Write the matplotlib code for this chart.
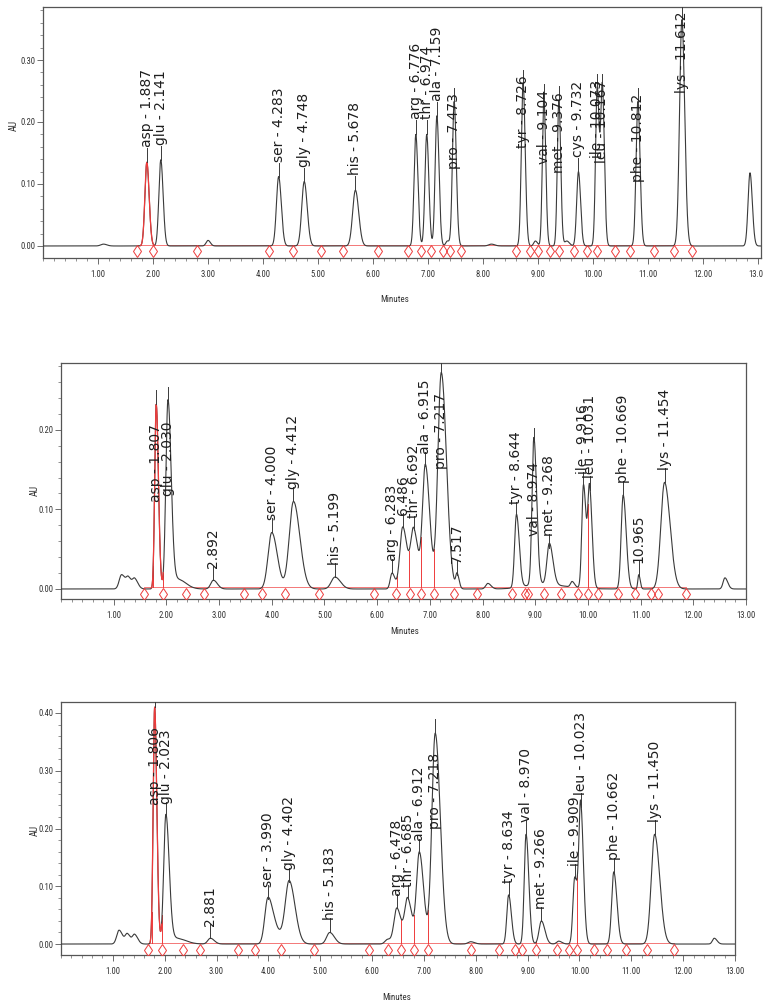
import numpy as np
import matplotlib
matplotlib.use("Agg")
import matplotlib.pyplot as plt
from matplotlib import font_manager as fm
from matplotlib.ticker import MultipleLocator, FixedLocator, FormatStrFormatter

# ------------------------------------------------------------------ data
# Panel 1 (standard)
p1_names = ["asp", "glu", "ser", "gly", "his", "arg", "thr", "ala", "pro", "tyr",
            "val", "met", "cys", "ile", "leu", "phe", "lys"]
p1_rt = [1.887, 2.141, 4.283, 4.748, 5.678, 6.776, 6.974, 7.159, 7.473, 8.726,
         9.104, 9.376, 9.732, 10.073, 10.167, 10.812, 11.612]
p1_height = [0.135, 0.139, 0.112, 0.104, 0.090, 0.180, 0.180, 0.210, 0.233, 0.262,
             0.238, 0.235, 0.120, 0.255, 0.255, 0.233, 0.365]
p1_width = [0.035, 0.035, 0.040, 0.045, 0.050, 0.032, 0.032, 0.032, 0.032, 0.032,
            0.028, 0.028, 0.032, 0.030, 0.030, 0.033, 0.042]
p1_extra_rt = [1.10, 3.00, 7.35, 8.15, 8.95, 9.52, 12.85]
p1_extra_height = [0.003, 0.009, 0.008, 0.003, 0.008, 0.008, 0.118]
p1_extra_width = [0.05, 0.035, 0.03, 0.05, 0.03, 0.04, 0.035]
p1_bounds = [1.70, 2.00, 2.80, 4.10, 4.54, 5.06, 5.46, 6.09, 6.64, 6.87, 7.05, 7.27,
             7.39, 7.60, 8.60, 8.86, 8.99, 9.22, 9.38, 9.65, 9.89, 10.07, 10.40,
             10.67, 11.10, 11.47, 11.79]
p1_drops = []

# Panel 2 (sample)
p2_names = ["asp", "glu", "", "ser", "gly", "his", "arg", "", "thr", "ala", "pro", "",
            "tyr", "val", "met", "ile", "leu", "phe", "", "lys"]
p2_rt = [1.807, 2.030, 2.892, 4.000, 4.412, 5.199, 6.283, 6.486, 6.692, 6.915, 7.217,
         7.517, 8.644, 8.974, 9.268, 9.916, 10.031, 10.669, 10.965, 11.454]
p2_height = [0.232, 0.236, 0.011, 0.071, 0.110, 0.015, 0.020, 0.078, 0.074, 0.155,
             0.272, 0.018, 0.092, 0.185, 0.052, 0.130, 0.124, 0.118, 0.018, 0.134]
p2_width = [0.028, 0.040, 0.05, 0.070, 0.080, 0.07, 0.035, 0.055, 0.055, 0.055,
            0.065, 0.025, 0.035, 0.035, 0.045, 0.032, 0.032, 0.038, 0.018, 0.070]
p2_extra_rt = [1.15, 1.28, 1.40, 2.22, 8.10, 9.10, 9.70, 12.60]
p2_extra_height = [0.018, 0.013, 0.012, 0.012, 0.007, 0.006, 0.007, 0.014]
p2_extra_width = [0.045, 0.04, 0.04, 0.10, 0.04, 0.30, 0.03, 0.035]
p2_bounds = [1.58, 1.94, 2.37, 2.72, 3.47, 3.81, 4.26, 4.90, 5.94, 6.36, 6.62, 6.83,
             7.08, 7.46, 7.90, 8.56, 8.81, 8.86, 9.17, 9.49, 9.81, 10.00, 10.19,
             10.57, 10.89, 11.20, 11.33, 11.86]
p2_drops = [1.75, 1.94, 6.38, 6.60, 6.83, 7.08, 10.00]

# Panel 3 (sample)
p3_names = ["asp", "glu", "", "ser", "gly", "his", "arg", "thr", "ala", "pro",
            "tyr", "val", "met", "ile", "leu", "phe", "lys"]
p3_rt = [1.806, 2.023, 2.881, 3.990, 4.402, 5.183, 6.478, 6.685, 6.912, 7.218,
         8.634, 8.970, 9.266, 9.909, 10.023, 10.662, 11.450]
p3_height = [0.410, 0.222, 0.010, 0.078, 0.108, 0.020, 0.062, 0.078, 0.158, 0.365,
             0.085, 0.190, 0.040, 0.115, 0.238, 0.125, 0.190]
p3_width = [0.028, 0.042, 0.05, 0.060, 0.075, 0.06, 0.055, 0.055, 0.055, 0.065,
            0.035, 0.035, 0.045, 0.035, 0.035, 0.040, 0.065]
p3_extra_rt = [1.12, 1.28, 1.42, 2.22, 4.15, 6.30, 7.90, 9.60, 12.60]
p3_extra_height = [0.024, 0.017, 0.016, 0.010, 0.020, 0.008, 0.004, 0.005, 0.010]
p3_extra_width = [0.045, 0.04, 0.04, 0.12, 0.08, 0.05, 0.05, 0.04, 0.035]
p3_bounds = [1.68, 1.95, 2.35, 2.68, 3.42, 3.74, 4.24, 4.88, 5.94, 6.31, 6.56, 6.80,
             7.08, 7.90, 8.45, 8.76, 8.90, 9.17, 9.57, 9.79, 9.96, 10.29, 10.54,
             10.89, 11.31, 11.83]
p3_drops = [1.75, 1.95, 6.56, 6.80, 7.08, 9.17, 9.96]

# ------------------------------------------------------------------ style
def pick_font(cands):
    avail = {f.name for f in fm.fontManager.ttflist}
    for c in cands:
        if c in avail:
            return c
    return "DejaVu Sans"

TICK_FONT = pick_font(["Liberation Sans Narrow", "Roboto Condensed", "Open Sans Condensed",
                       "DejaVu Sans Condensed", "Liberation Sans"])
LABEL_FONT = "DejaVu Sans"

TRACE = "#3a3a3a"
RED = "#ee3b3b"

fig = plt.figure(figsize=(7.63, 10.02), dpi=100)
W, H = 763.0, 1002.0


def add_axes_px(left, top, right, bottom):
    return fig.add_axes([left / W, 1 - bottom / H, (right - left) / W, (bottom - top) / H])


def trace(x, rts, hs, ws, tail):
    y = np.zeros_like(x)
    for r, h, w in zip(rts, hs, ws):
        s = np.where(x < r, w, w * tail)
        y += h * np.exp(-0.5 * ((x - r) / s) ** 2)
    return y


def draw_panel(ax, names, rts, hs, ws, ex_rt, ex_h, ex_w, bounds, drops,
               xlim, ylim, ymax_tick, tail, gap, below_off, fit_margin):
    x = np.linspace(0, 13.05, 8000)
    all_rt = list(rts) + list(ex_rt)
    all_h = list(hs) + list(ex_h)
    all_w = list(ws) + list(ex_w)
    y = trace(x, all_rt, all_h, all_w, tail)

    ax.set_xlim(*xlim)
    ax.set_ylim(*ylim)
    fig.canvas.draw()
    ppu = ax.bbox.height / (ylim[1] - ylim[0])

    # red baseline between first and last integration marks
    ax.plot([bounds[0], bounds[-1]], [0.002, 0.002], color=RED, lw=0.6, alpha=0.8, zorder=2)
    # black trace
    ax.plot(x, y, color=TRACE, lw=0.8, zorder=3)
    # first (asp) peak highlighted red
    a0, a1 = rts[0] - 3.2 * ws[0], rts[0] + 3.2 * ws[0] * tail
    m = (x >= a0) & (x <= a1)
    ax.plot(x[m], y[m], color=RED, lw=0.9, zorder=4)
    # red drop lines
    for d in drops:
        yd = np.interp(d, x, y)
        ax.plot([d, d], [0.002, yd], color=RED, lw=0.7, zorder=2)
    # integration markers (just under the baseline)
    ym = -5.5 / ppu
    ax.plot(bounds, [ym] * len(bounds), linestyle="none", marker="d", ms=6,
            mfc="none", mec=RED, mew=0.7, zorder=5)

    # axes styling
    for s in ax.spines.values():
        s.set_color("#555555")
        s.set_linewidth(0.9)
    ax.xaxis.set_major_locator(FixedLocator(np.arange(1, 14)))
    ax.xaxis.set_minor_locator(MultipleLocator(0.2))
    ax.xaxis.set_major_formatter(FormatStrFormatter("%.2f"))
    ax.yaxis.set_major_locator(FixedLocator(np.arange(0, ymax_tick + 0.001, 0.1)))
    ax.yaxis.set_minor_locator(MultipleLocator(0.02))
    ax.yaxis.set_major_formatter(FormatStrFormatter("%.2f"))
    ax.tick_params(which="major", direction="out", length=4, width=0.6, colors="#555555",
                   labelsize=6.2, labelcolor="#333333", pad=1.5)
    ax.tick_params(axis="x", which="major", pad=5)
    ax.tick_params(which="minor", direction="out", length=2, width=0.5, colors="#666666")
    for lab in ax.get_xticklabels() + ax.get_yticklabels():
        lab.set_fontfamily(TICK_FONT)

    # peak labels: above the apex when they fit, otherwise hanging below it
    renderer = fig.canvas.get_renderer()
    for name, r, h in zip(names, rts, hs):
        txt = f"{name} - {r:.3f}" if name else f"{r:.3f}"
        ax.plot([r, r], [h, min(h + 14 / ppu, ylim[1])], color=TRACE, lw=0.7, zorder=4)
        t = ax.text(r, h + gap / ppu, txt, rotation=90, ha="center", va="bottom",
                    fontsize=10, fontfamily=LABEL_FONT, color="#1e1e1e", zorder=6)
        bb = t.get_window_extent(renderer)
        over = bb.y1 - ax.bbox.y1
        if over > fit_margin:
            ytop = min(h + below_off / ppu, ylim[1] - 1 / ppu)
            t.set_position((r, ytop))
            t.set_va("top")


# Panel 1
ax1 = add_axes_px(43, 7, 761, 258)
draw_panel(ax1, p1_names, p1_rt, p1_height, p1_width, p1_extra_rt, p1_extra_height,
           p1_extra_width, p1_bounds, p1_drops, (0, 13.05), (-0.0194, 0.3855), 0.30, 1.2,
           15, 8, -10)
# Panel 2
ax2 = add_axes_px(61, 363, 746, 599)
draw_panel(ax2, p2_names, p2_rt, p2_height, p2_width, p2_extra_rt, p2_extra_height,
           p2_extra_width, p2_bounds, p2_drops, (0, 13.0), (-0.0126, 0.284), 0.20, 1.5,
           12, -20, 1)
# Panel 3
ax3 = add_axes_px(61, 702, 735, 955)
draw_panel(ax3, p3_names, p3_rt, p3_height, p3_width, p3_extra_rt, p3_extra_height,
           p3_extra_width, p3_bounds, p3_drops, (0, 13.0), (-0.019, 0.419), 0.40, 1.5,
           12, -20, 1)

# axis titles
for (xa, ya) in [(14, 125), (35, 490), (35, 830)]:
    fig.text(xa / W, 1 - ya / H, "AU", rotation=90, ha="center", va="center",
             fontsize=7, fontfamily=TICK_FONT, color="#333333")
for (xm, ym) in [(395, 300), (405, 632), (397, 997)]:
    fig.text(xm / W, 1 - ym / H, "Minutes", ha="center", va="center",
             fontsize=6.5, fontfamily=TICK_FONT, color="#333333")

fig.savefig("out.png", dpi=100)
